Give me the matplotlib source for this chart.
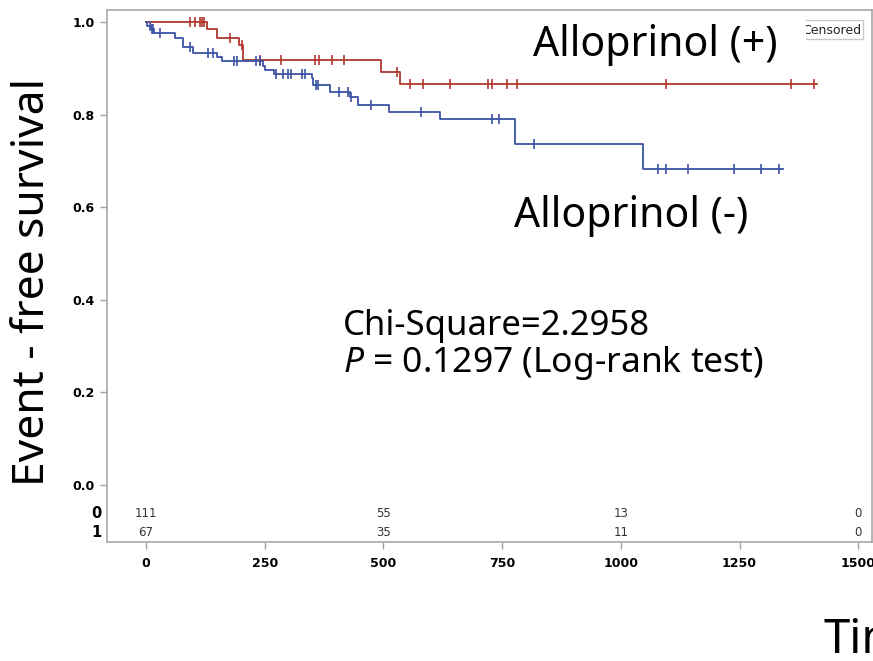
import matplotlib
matplotlib.use("Agg")
import matplotlib.pyplot as plt
from matplotlib.patches import Rectangle

# --------------------------
# Kaplan-Meier data
# --------------------------
# Alloprinol (+)  (red)
plus_times = [0, 128, 150, 197, 204, 495, 536]
plus_surv = [1.0, 0.985, 0.967, 0.952, 0.918, 0.893, 0.867]
plus_end = 1413
plus_censor = [93, 103, 114, 119, 123, 176, 202, 241, 284, 357, 364, 392, 418,
               529, 557, 583, 640, 721, 728, 760, 782, 1096, 1359, 1406]

# Alloprinol (-)  (blue)
minus_times = [0, 3, 10, 17, 61, 79, 100, 149, 160, 246, 250, 269, 350, 352,
               387, 430, 447, 512, 620, 777, 1046]
minus_surv = [1.0, 0.992, 0.985, 0.978, 0.967, 0.946, 0.934, 0.925, 0.916, 0.906,
              0.897, 0.888, 0.879, 0.864, 0.849, 0.839, 0.822, 0.806, 0.792,
              0.737, 0.683]
minus_end = 1341
minus_censor = [8, 12, 15, 30, 93, 131, 141, 186, 191, 232, 240, 274, 288, 300,
                306, 328, 334, 358, 362, 406, 425, 432, 475, 579, 729, 743, 817,
                1079, 1096, 1142, 1239, 1295, 1334]

# numbers at risk
risk_times = [0, 500, 1000, 1500]
risk_row0 = [111, 55, 13, 0]
risk_row1 = [67, 35, 11, 0]

x_ticks = [0, 250, 500, 750, 1000, 1250, 1500]
y_ticks = [0.0, 0.2, 0.4, 0.6, 0.8, 1.0]

RED = "#B0382F"
BLUE = "#3C53A4"
BIG = "Noto Sans"
NARROW = ["Liberation Sans Narrow", "DejaVu Sans"]

plt.rcParams["mathtext.fontset"] = "custom"
plt.rcParams["mathtext.rm"] = "Noto Sans"
plt.rcParams["mathtext.it"] = "Noto Sans:italic"

W, H = 873, 661
fig = plt.figure(figsize=(W / 100, H / 100), dpi=100)
ax = fig.add_axes([107 / W, 1 - 542 / H, (872 - 107) / W, (542 - 10) / H])


def surv_at(times, surv, t):
    s = surv[0]
    for ti, si in zip(times, surv):
        if ti <= t:
            s = si
    return s


def km(times, surv, end, censor, color):
    xs = list(times) + [end]
    ys = list(surv) + [surv[-1]]
    ax.step(xs, ys, where="post", color=color, lw=1.3, zorder=3)
    cy = [surv_at(times, surv, c) for c in censor]
    ax.plot(censor, cy, ls="none", marker="|", ms=7.5, mew=1.2,
            color=color, zorder=4)


km(plus_times, plus_surv, plus_end, plus_censor, RED)
km(minus_times, minus_surv, minus_end, minus_censor, BLUE)

ax.set_xlim(-82, 1529)
ax.set_ylim(-0.124, 1.027)
ax.set_xticks(x_ticks)
ax.set_yticks(y_ticks)
ax.set_xticklabels([str(v) for v in x_ticks], family=NARROW,
                   fontweight="bold", fontsize=9)
ax.set_yticklabels([f"{v:.1f}" for v in y_ticks], family=NARROW,
                   fontweight="bold", fontsize=9)
ax.tick_params(axis="x", length=5, width=1, color="#A0A0A0", pad=6)
ax.tick_params(axis="y", length=5, width=1, color="#A0A0A0", pad=4)
for sp in ax.spines.values():
    sp.set_color("#A8A8A8")
    sp.set_linewidth(1.2)

# at-risk table inside the plot
for t, a, b in zip(risk_times, risk_row0, risk_row1):
    ax.text(t, -0.062, str(a), ha="center", va="center", family=NARROW,
            fontsize=8.5, color="#333333")
    ax.text(t, -0.103, str(b), ha="center", va="center", family=NARROW,
            fontsize=8.5, color="#333333")
yt = ax.get_yaxis_transform()
ax.text(-0.007, -0.062, "0", transform=yt, ha="right", va="center",
        family=NARROW, fontweight="bold", fontsize=10.5, clip_on=False)
ax.text(-0.007, -0.103, "1", transform=yt, ha="right", va="center",
        family=NARROW, fontweight="bold", fontsize=10.5, clip_on=False)


def fx(px):
    return px / W


def fy(py):
    return 1 - py / H


# censored legend (partly hidden behind the label box)
fig.patches.append(Rectangle((fx(797), fy(39)), fx(863) - fx(797),
                             fy(20) - fy(39), transform=fig.transFigure,
                             fill=False, ec="#C8C8C8", lw=1, zorder=5))
fig.text(fx(861), fy(30), "Censored", ha="right", va="center", fontsize=9,
         color="#222222", zorder=6)
fig.patches.append(Rectangle((fx(505), fy(62)), fx(806) - fx(505),
                             fy(13) - fy(62), transform=fig.transFigure,
                             fc="white", ec="none", zorder=7))

fig.text(fx(533), fy(56), "Alloprinol (+)", family=BIG, fontsize=29.5,
         va="baseline", zorder=8)
fig.text(fx(514), fy(227), "Alloprinol (-)", family=BIG, fontsize=29.5,
         va="baseline", zorder=8)
fig.text(fx(343), fy(335), "Chi-Square=2.2958", family=BIG, fontsize=25,
         va="baseline", zorder=8)
fig.text(fx(343), fy(372), r"$\mathit{P}$ = 0.1297 (Log-rank test)", family=BIG,
         fontsize=25.5, va="baseline", zorder=8)
fig.text(fx(33), fy(282), "Event - free survival", family=BIG, fontsize=32,
         rotation=90, ha="center", va="center")
fig.text(fx(823), fy(653), "Time", family=BIG, fontsize=34, va="baseline")

fig.savefig("out.png", dpi=100)
